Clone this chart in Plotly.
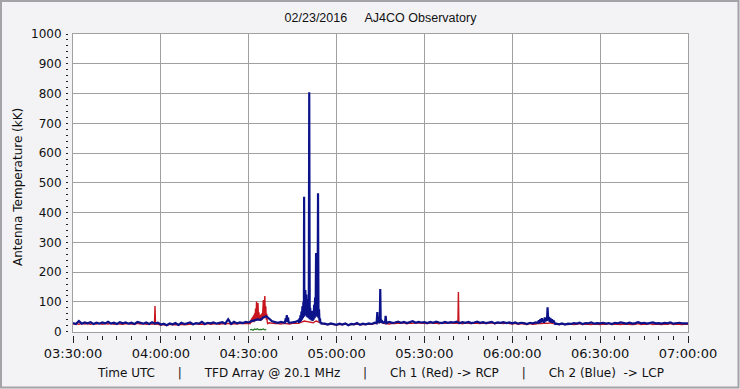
import plotly.graph_objects as go
from datetime import datetime, timedelta

DATE = "2016-02-23"
T_START = "03:30:00"
T_END = "07:00:00"

# ---- per-minute baselines (03:30 .. 07:00) ----
blue_base = [
    29, 26, 36, 27, 31, 28, 32, 26, 30, 27,
    31, 28, 33, 27, 30, 26, 32, 28, 31, 27,
    30, 26, 33, 29, 27, 31, 26, 32, 27, 30,
    24, 27, 22, 28, 25, 29, 23, 30, 26, 28,
    31, 25, 29, 27, 33, 26, 30, 28, 31, 27,
    29, 32, 27, 42, 26, 33, 28, 31, 29, 33,
    31, 36, 38, 41, 40, 48, 52, 44, 35, 32,
    30, 33, 32, 31, 30, 31, 33, 35, 60, 120,
    100, 90, 80, 90, 60, 40, 27, 24, 28, 25,
    23, 27, 24, 28, 22, 26, 25, 29, 23, 27,
    25, 28, 26, 30, 40, 60, 35, 29, 33, 30,
    31, 34, 30, 33, 29, 32, 35, 30, 33, 31,
    32, 29, 33, 30, 34, 31, 29, 33, 30, 32,
    31, 34, 29, 32, 30, 33, 29, 31, 34, 30,
    32, 29, 31, 33, 28, 31, 30, 32, 29, 31,
    28, 31, 27, 30, 29, 26, 30, 28, 31, 35,
    40, 40, 40, 40, 40, 27, 25, 28, 24, 27,
    26, 29, 27, 30, 26, 29, 28, 31, 27, 29,
    28, 30, 27, 29, 26, 30, 28, 31, 29, 27,
    30, 27, 29, 32, 28, 30, 27, 29, 31, 28,
    29, 27, 30, 28, 31, 27, 29, 30, 28, 29, 28,
]
red_base = [
    26, 27, 25, 28, 26, 27, 25, 27, 26, 28,
    25, 27, 26, 28, 25, 27, 26, 25, 27, 26,
    27, 25, 28, 26, 27, 25, 26, 27, 26, 25,
    22, 24, 21, 25, 23, 24, 22, 25, 23, 24,
    26, 24, 27, 25, 26, 24, 27, 25, 26, 27,
    25, 27, 26, 28, 25, 27, 26, 28, 27, 28,
    29, 40, 60, 70, 50, 90, 80, 30, 28, 27,
    27, 26, 28, 27, 26, 28, 27, 28, 32, 36,
    34, 32, 30, 36, 32, 28, 25, 24, 26, 24,
    23, 25, 24, 26, 23, 25, 24, 26, 24, 25,
    24, 26, 25, 27, 30, 32, 28, 27, 26, 28,
    27, 29, 28, 30, 27, 29, 28, 30, 29, 28,
    29, 27, 30, 28, 29, 27, 30, 28, 29, 30,
    28, 27, 29, 27, 30, 28, 27, 29, 28, 27,
    29, 27, 28, 30, 27, 29, 28, 27, 29, 28,
    26, 28, 25, 27, 26, 24, 27, 25, 26, 28,
    27, 29, 28, 30, 27, 25, 24, 26, 25, 24,
    26, 24, 25, 27, 24, 26, 25, 24, 26, 25,
    24, 26, 25, 27, 24, 26, 25, 24, 26, 25,
    26, 24, 25, 27, 24, 26, 25, 27, 24, 26,
    25, 24, 26, 25, 27, 24, 26, 25, 24, 26, 25,
]

# ---- high-resolution bursts (override the baseline inside their window) ----
blue_bump_times = ["04:42:20", "04:42:40", "04:42:50", "04:43:00", "04:43:10",
                   "04:43:25", "04:43:40"]
blue_bump_vals = [30, 45, 32, 56, 34, 48, 30]
blue_storm_times = [
    "04:47:00", "04:47:10", "04:47:20", "04:47:30", "04:47:40", "04:47:50",
    "04:48:00", "04:48:10", "04:48:20", "04:48:30", "04:48:40", "04:48:50",
    "04:48:55", "04:49:00", "04:49:05", "04:49:10", "04:49:15", "04:49:20",
    "04:49:30", "04:49:40", "04:49:50", "04:50:00", "04:50:10", "04:50:20",
    "04:50:30", "04:50:40", "04:50:50", "04:51:00", "04:51:10", "04:51:20",
    "04:51:30", "04:51:40", "04:51:50", "04:52:00", "04:52:10", "04:52:20",
    "04:52:30", "04:52:40", "04:52:50", "04:53:00", "04:53:10", "04:53:20",
    "04:53:30", "04:53:40", "04:53:50", "04:54:00", "04:54:10", "04:54:20",
    "04:54:30", "04:54:40", "04:54:50", "04:55:00",
]
blue_storm_vals = [
    38, 30, 45, 32, 55, 35,
    68, 40, 85, 45, 100, 50,
    453, 55, 120, 205, 60, 140,
    55, 125, 50, 110, 48, 95,
    45, 804, 42, 80, 40, 70,
    38, 62, 36, 70, 40, 90,
    45, 115, 50, 264, 55, 125,
    50, 465, 45, 75, 35, 45,
    28, 32, 25, 28,
]
blue_spike_times = [
    "05:13:40", "05:13:55", "05:14:05", "05:14:15", "05:14:25", "05:14:45",
    "05:14:55", "05:15:05", "05:15:30", "05:16:00", "05:16:35", "05:16:45",
    "05:16:55",
]
blue_spike_vals = [28, 66, 30, 50, 32, 30, 143, 31, 36, 30, 33, 53, 32]
blue_late_times = [
    "06:08:50", "06:09:05", "06:09:20", "06:09:35", "06:09:50", "06:10:05",
    "06:10:20", "06:10:35", "06:10:50", "06:11:05", "06:11:20", "06:11:35",
    "06:11:50", "06:12:03", "06:12:15", "06:12:30", "06:12:45", "06:13:00",
    "06:13:15", "06:13:30", "06:13:45", "06:14:00", "06:14:20", "06:14:40",
]
blue_late_vals = [
    30, 38, 29, 42, 31, 45, 33, 40, 30, 48, 34, 44,
    36, 82, 38, 50, 33, 46, 31, 42, 30, 38, 28, 26,
]

red_burst_times = [
    "04:30:30", "04:30:40", "04:30:50", "04:31:00", "04:31:10", "04:31:20",
    "04:31:30", "04:31:40", "04:31:50", "04:32:00", "04:32:10", "04:32:20",
    "04:32:30", "04:32:40", "04:32:50", "04:33:00", "04:33:10", "04:33:20",
    "04:33:30", "04:33:40", "04:33:50", "04:34:00", "04:34:10", "04:34:20",
    "04:34:30", "04:34:40", "04:34:50", "04:35:00", "04:35:10", "04:35:20",
    "04:35:30", "04:35:40", "04:35:50", "04:36:00", "04:36:10", "04:36:20",
    "04:36:30",
]
red_burst_vals = [
    27, 40, 30, 45, 32, 50,
    34, 55, 32, 62, 36, 78,
    38, 101, 40, 72, 96, 42,
    65, 38, 55, 36, 58, 38,
    62, 40, 85, 106, 45, 98,
    120, 50, 85, 40, 60, 32,
    27,
]
red_spike1_times = ["03:57:50", "03:58:00", "03:58:10"]
red_spike1_vals = [26, 86, 26]
red_spike2_times = ["05:41:26", "05:41:36", "05:41:46"]
red_spike2_vals = [28, 133, 28]

green_times = [
    "04:30:30", "04:31:00", "04:31:30", "04:32:00", "04:32:30", "04:33:00",
    "04:33:30", "04:34:00", "04:34:30", "04:35:00", "04:35:30", "04:36:00",
]
green_vals = [6, 8, 5, 9, 7, 10, 6, 8, 7, 9, 6, 7]

title_text = "02/23/2016\u00a0\u00a0\u00a0\u00a0\u00a0AJ4CO Observatory"
y_title = "Antenna Temperature (kK)"
sp = "\u00a0" * 6
x_title = ("Time UTC" + sp + "|" + sp + "TFD Array @ 20.1 MHz" + sp + "|" + sp +
           "Ch 1 (Red) -> RCP" + sp + "|" + sp + "Ch 2 (Blue)\u00a0\u00a0-> LCP")


def ts(s):
    return datetime.strptime(DATE + " " + s, "%Y-%m-%d %H:%M:%S")


start = ts(T_START)
end = ts(T_END)


def assemble(base, groups):
    pts = {}
    wins = [(ts(g[0][0]), ts(g[0][-1])) for g in groups]
    for i, v in enumerate(base):
        t = start + timedelta(minutes=i)
        if any(a <= t <= b for a, b in wins):
            continue
        pts[t] = v
    for times, vals in groups:
        for s, v in zip(times, vals):
            pts[ts(s)] = v
    keys = sorted(pts)
    return keys, [pts[k] for k in keys]


bx, by = assemble(blue_base, [(blue_bump_times, blue_bump_vals),
                              (blue_storm_times, blue_storm_vals),
                              (blue_spike_times, blue_spike_vals),
                              (blue_late_times, blue_late_vals)])
rx, ry = assemble(red_base, [(red_burst_times, red_burst_vals),
                             (red_spike1_times, red_spike1_vals),
                             (red_spike2_times, red_spike2_vals)])
gx = [ts(s) for s in green_times]

W, H = 740, 389
ML, MR, MT, MB = 60, 52, 34, 49
PW = W - ML - MR
PH = H - MT - MB
x_dom0 = 13 / PW
y_dom0 = 8.3 / PH

GRID = "#a0a0a0"
TICK = "#202020"
BLUE = "#0b128a"
RED = "#c8141e"
GREEN = "#1f7a1f"

fig = go.Figure()
fig.add_trace(go.Scatter(x=rx, y=ry, mode="lines", line=dict(color=RED, width=1.4),
                         showlegend=False, hoverinfo="skip"))
fig.add_trace(go.Scatter(x=bx, y=by, mode="lines", line=dict(color=BLUE, width=2.2),
                         showlegend=False, hoverinfo="skip"))
fig.add_trace(go.Scatter(x=gx, y=green_vals, mode="lines", line=dict(color=GREEN, width=1.2),
                         showlegend=False, hoverinfo="skip"))
# helper (invisible) trace so the outer tick axes get drawn
fig.add_trace(go.Scatter(x=[start], y=[0], xaxis="x2", yaxis="y2", mode="none",
                         showlegend=False, hoverinfo="skip"))

rng = [start, end]
fig.update_layout(
    width=W, height=H,
    margin=dict(l=ML, r=MR, t=MT, b=MB, pad=0, autoexpand=False),
    paper_bgcolor="#f3f3f6",
    plot_bgcolor="#ffffff",
    showlegend=False,
    title=dict(text=title_text, x=380.5 / W, xref="container", xanchor="center",
               y=1 - 18 / H, yref="container", yanchor="middle",
               font=dict(family="Liberation Sans", size=12.5, color="#111111")),
    xaxis=dict(type="date", range=rng, domain=[x_dom0, 1], tick0=start, dtick=1800000,
               showgrid=True, gridcolor=GRID, gridwidth=1, showline=True, mirror=True,
               linecolor=GRID, linewidth=1, showticklabels=False, ticks="", zeroline=False,
               automargin=False),
    xaxis2=dict(type="date", range=rng, domain=[x_dom0, 1], overlaying="x", anchor="free",
                position=(340 - 334.5) / PH, side="bottom", tick0=start, dtick=1800000,
                ticks="outside", ticklen=7, tickwidth=1, tickcolor=TICK,
                tickformat="%H:%M:%S", automargin=False,
                tickfont=dict(family="DejaVu Sans", size=13, color="#111111"),
                minor=dict(ticks="outside", ticklen=4, tickwidth=1, tickcolor=TICK,
                           dtick=300000, tick0=start, showgrid=False),
                showgrid=False, showline=False, zeroline=False),
    yaxis=dict(range=[0, 1000], domain=[y_dom0, 1], dtick=100, showgrid=True,
               gridcolor=GRID, gridwidth=1, showline=True, mirror=True, linecolor=GRID,
               linewidth=1, ticks="", ticklabelstandoff=8, zeroline=False, automargin=False,
               tickfont=dict(family="DejaVu Sans", size=12, color="#111111")),
    yaxis2=dict(range=[0, 1000], domain=[y_dom0, 1], overlaying="y", anchor="free",
                position=(68 - ML) / PW, side="left", dtick=20, ticks="outside",
                ticklen=2, tickwidth=1, tickcolor=TICK, showticklabels=False,
                showgrid=False, showline=False, zeroline=False, automargin=False),
    annotations=[
        dict(text=x_title, xref="paper", yref="paper", x=(380.5 - ML) / PW,
             y=(340 - 372.7) / PH, xanchor="center", yanchor="middle", showarrow=False,
             font=dict(family="DejaVu Sans", size=12, color="#111111")),
        dict(text=y_title, xref="paper", yref="paper", x=(18 - ML) / PW,
             y=(340 - 187) / PH, xanchor="center", yanchor="middle", textangle=-90,
             showarrow=False, font=dict(family="DejaVu Sans", size=12, color="#111111")),
    ],
    shapes=[dict(type="rect", xref="paper", yref="paper",
                 x0=(1 - ML) / PW, x1=(W - 1.5 - ML) / PW,
                 y0=(340 - (H - 1.5)) / PH, y1=(340 - 1) / PH,
                 line=dict(color="#a4a4a8", width=2), layer="below")],
)

fig.write_html("out.html", config={"displayModeBar": False},
               post_script="document.body.style.margin='0px';document.body.style.overflow='hidden';")
